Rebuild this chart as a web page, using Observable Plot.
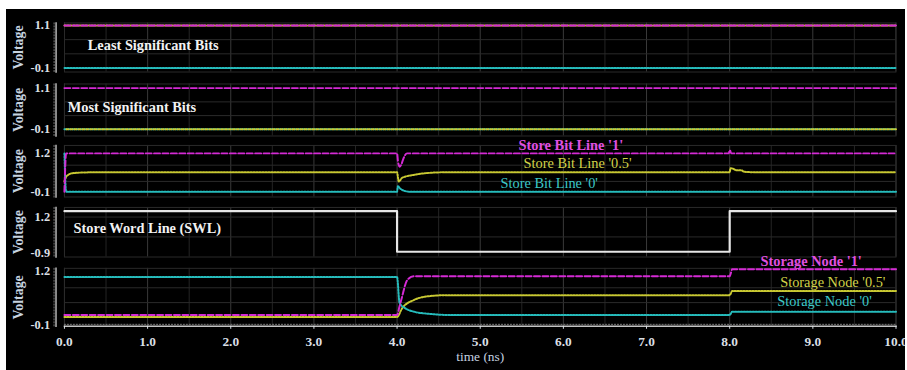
<!DOCTYPE html>
<html>
<head>
<meta charset="utf-8">
<script src="https://cdn.jsdelivr.net/npm/d3@7"></script>
<script src="https://cdn.jsdelivr.net/npm/@observablehq/plot@0.6"></script>
<style>
html, body { margin: 0; padding: 0; background: #fff; }
#wrap { position: absolute; left: 6px; top: 9px; width: 899px; height: 361px; background: #000; overflow: hidden; }
.panel { position: absolute; left: -6px; }
</style>
</head>
<body>
<div id="wrap"></div>
<script>
// ---------- data ----------
const xTickValues = [0, 1, 2, 3, 4, 5, 6, 7, 8, 9, 10];

// Least Significant Bits
const lsbTime = [0, 10];
const lsb1 = [1.1, 1.1];
const lsb05 = [1.1, 1.1];
const lsb0 = [-0.1, -0.1];

// Most Significant Bits
const msbTime = [0, 10];
const msb1 = [1.1, 1.1];
const msb05 = [-0.1, -0.1];
const msb0 = [-0.1, -0.1];

// Store Bit Lines
const sbl1Time = [0, 0.02, 4.0, 4.01, 4.03, 4.05, 4.08, 4.12, 7.99, 8.0, 8.02, 10];
const sbl1 = [-0.1, 1.2, 1.2, 0.95, 0.75, 0.82, 1.05, 1.2, 1.2, 1.31, 1.2, 1.2];
const sbl05Time = [0, 0.02, 0.05, 0.1, 0.2, 0.4, 4.0, 4.02, 4.06, 4.2, 4.39, 4.6, 8.0, 8.01, 8.04, 8.08, 8.14, 8.17, 8.3, 10];
const sbl05 = [0.25, 0.4, 0.48, 0.53, 0.55, 0.56, 0.56, 0.245, 0.37, 0.47, 0.54, 0.56, 0.56, 0.70, 0.68, 0.63, 0.63, 0.58, 0.56, 0.56];
const sbl0Time = [0, 0.02, 4.0, 4.01, 4.04, 4.1, 4.15, 10];
const sbl0 = [1.2, -0.1, -0.1, 0.09, 0.0, -0.08, -0.1, -0.1];

// Store Word Line
const swlTime = [0, 4.0, 4.0, 8.0, 8.0, 10];
const swl = [1.54, 1.54, -0.81, -0.81, 1.54, 1.54];

// Storage Nodes
const sn1Time = [0, 4.0, 4.03, 4.06, 4.12, 4.2, 8.0, 8.03, 10];
const sn1 = [0.14, 0.14, 0.35, 0.58, 0.98, 1.08, 1.08, 1.25, 1.25];
const sn05Time = [0, 4.0, 4.06, 4.2, 4.4, 4.6, 8.0, 8.03, 10];
const sn05 = [0.09, 0.09, 0.30, 0.50, 0.60, 0.62, 0.62, 0.72, 0.72];
const sn0Time = [0, 4.0, 4.03, 4.1, 4.2, 4.4, 4.6, 8.0, 8.03, 10];
const sn0 = [1.06, 1.06, 0.43, 0.30, 0.22, 0.165, 0.14, 0.14, 0.22, 0.22];

// ---------- styles ----------
const MAG = "#d42ad4", YEL = "#c8c832", CYA = "#26bcbc", WHT = "#e6e6e6";
const MAG_T = "#e050e0", YEL_T = "#d2d248", CYA_T = "#3cc8c8";
const SERIF = "'Liberation Serif', 'Times New Roman', serif";

const rows = (t, v) => t.map((d, i) => ({t: d, v: v[i]}));
const dashed = (t, v, stroke, extra = {}) =>
  Plot.line(rows(t, v), {x: "t", y: "v", stroke, strokeWidth: 2, strokeDasharray: "6,2.5", curve: "monotone-x", ...extra});
const dotted = (t, v, stroke, extra = {}) =>
  Plot.line(rows(t, v), {x: "t", y: "v", stroke, strokeWidth: 2, strokeDasharray: "1.5,1.5", curve: "monotone-x", ...extra});
const label = (text, x, y, fill, bold, anchor = "middle") =>
  Plot.text([text], {x, y, text: d => d, fill, fontSize: 14.5, fontWeight: bold ? "bold" : "normal", textAnchor: anchor, fontFamily: SERIF});

function panel(cfg) {
  const {top, height, frameTop, frameBottom, domain, px0, px1, ticks, grid, marks, bottomAxis} = cfg;
  const base = [
    Plot.ruleX(d3.range(0, 10.01, 0.5), {stroke: d => Number.isInteger(d) ? "#3a3a3a" : "#242424", strokeWidth: 1}),
    Plot.ruleY(grid, {stroke: "#2a2a2a", strokeWidth: 1}),
    Plot.frame({stroke: "#2a2a2a"}),
    Plot.frame({anchor: "left", dx: -8.5, stroke: "#b8b8b8", strokeWidth: 1.5}),
    Plot.frame({anchor: "left", dx: -10.5, stroke: "#7a7a7a", strokeDasharray: "1,2"}),
    Plot.axisY({ticks, tickSize: 0, tickPadding: 14.5, tickFormat: d => d.toFixed(1), fontSize: 12.5, fontWeight: "bold", label: null}),
    Plot.text(["Voltage"], {frameAnchor: "left", rotate: -90, dx: -46.5, textAnchor: "middle", fill: "#c6d3e0", fontSize: 14, fontWeight: "bold", fontFamily: SERIF})
  ];
  const extra = bottomAxis ? [
    Plot.frame({anchor: "bottom", stroke: "#c4c4c4", strokeWidth: 1.5}),
    Plot.frame({anchor: "bottom", dy: -2, stroke: "#7a7a7a", strokeDasharray: "1,2"}),
    Plot.axisX({ticks: xTickValues, tickSize: 3, tickPadding: 7, tickFormat: d => d.toFixed(1), fontSize: 13.5, fontWeight: "bold", label: null}),
    Plot.text(["time (ns)"], {frameAnchor: "bottom", lineAnchor: "middle", dy: 31, fill: "#c6d3e0", fontSize: 13.5, fontFamily: SERIF})
  ] : [];
  const svg = Plot.plot({
    width: 907,
    height,
    marginLeft: 64.5,
    marginRight: 3.5,
    marginTop: frameTop - top,
    marginBottom: top + height - frameBottom,
    x: bottomAxis ? {domain: [0, 10]} : {domain: [0, 10], axis: null},
    y: {domain, range: [px0 - top, px1 - top]},
    style: {background: "transparent", overflow: "visible", fontFamily: SERIF, color: "#dadfe4"},
    marks: [...base, ...marks, ...extra]
  });
  svg.classList.add("panel");
  svg.style.top = (top - 9) + "px";
  document.getElementById("wrap").appendChild(svg);
}

// Panel 1: LSB
panel({
  top: 18, height: 57, frameTop: 22.5, frameBottom: 72,
  domain: [-0.1, 1.1], px0: 68, px1: 25,
  ticks: [1.1, -0.1], grid: [0.7, 0.3],
  marks: [
    dotted(lsbTime, lsb05, YEL),
    dashed(lsbTime, lsb1, MAG),
    dotted(lsbTime, lsb0, CYA),
    Plot.text(["Least Significant Bits"], {x: 0.28, y: 0.54, text: d => d, fill: "#f2f2f2", fontSize: 14.5, fontWeight: "bold", textAnchor: "start", fontFamily: SERIF})
  ]
});

// Panel 2: MSB
panel({
  top: 79, height: 60, frameTop: 83.5, frameBottom: 136,
  domain: [-0.1, 1.1], px0: 129.3, px1: 87.7,
  ticks: [1.1, -0.1], grid: [0.7, 0.3],
  marks: [
    dashed(msbTime, msb1, MAG),
    dotted(msbTime, msb0, CYA, {strokeDasharray: "2,2"}),
    dotted(msbTime, msb05, YEL, {strokeDasharray: "2,2", strokeDashoffset: 2}),
    Plot.text(["Most Significant Bits"], {x: 0.04, y: 0.54, text: d => d, fill: "#f2f2f2", fontSize: 14.5, fontWeight: "bold", textAnchor: "start", fontFamily: SERIF})
  ]
});

// Panel 3: Store Bit Lines
panel({
  top: 140, height: 60, frameTop: 145, frameBottom: 197,
  domain: [-0.1, 1.2], px0: 191.7, px1: 153,
  ticks: [1.2, -0.1], grid: [0.8, 0.25],
  marks: [
    dotted(sbl05Time, sbl05, YEL),
    dotted(sbl0Time, sbl0, CYA),
    dashed(sbl1Time, sbl1, MAG),
    label("Store Bit Line '1'", 6.09, 1.47, MAG_T, true),
    label("Store Bit Line '0.5'", 6.17, 0.86, YEL_T, false),
    label("Store Bit Line '0'", 5.83, 0.18, CYA_T, false)
  ]
});

// Panel 4: Store Word Line
panel({
  top: 202, height: 58, frameTop: 207, frameBottom: 257,
  domain: [-0.9, 1.2], px0: 253.3, px1: 216.7,
  ticks: [1.2, -0.9], grid: [1.2, 0.05],
  marks: [
    Plot.line(rows(swlTime, swl), {x: "t", y: "v", stroke: WHT, strokeWidth: 2.2}),
    Plot.text(["Store Word Line (SWL)"], {x: 0.11, y: 0.55, text: d => d, fill: "#f2f2f2", fontSize: 14.5, fontWeight: "bold", textAnchor: "start", fontFamily: SERIF})
  ]
});

// Panel 5: Storage Nodes + time axis
panel({
  top: 250, height: 120, frameTop: 268, frameBottom: 326.5,
  domain: [-0.1, 1.2], px0: 325, px1: 271,
  ticks: [1.2, -0.1], grid: [0.8, 0.44],
  bottomAxis: true,
  marks: [
    dotted(sn05Time, sn05, YEL),
    dotted(sn0Time, sn0, CYA),
    dashed(sn1Time, sn1, MAG),
    label("Storage Node '1'", 8.98, 1.45, MAG_T, true),
    label("Storage Node '0.5'", 9.24, 0.935, YEL_T, false),
    label("Storage Node '0'", 9.14, 0.46, CYA_T, false)
  ]
});
</script>
</body>
</html>
